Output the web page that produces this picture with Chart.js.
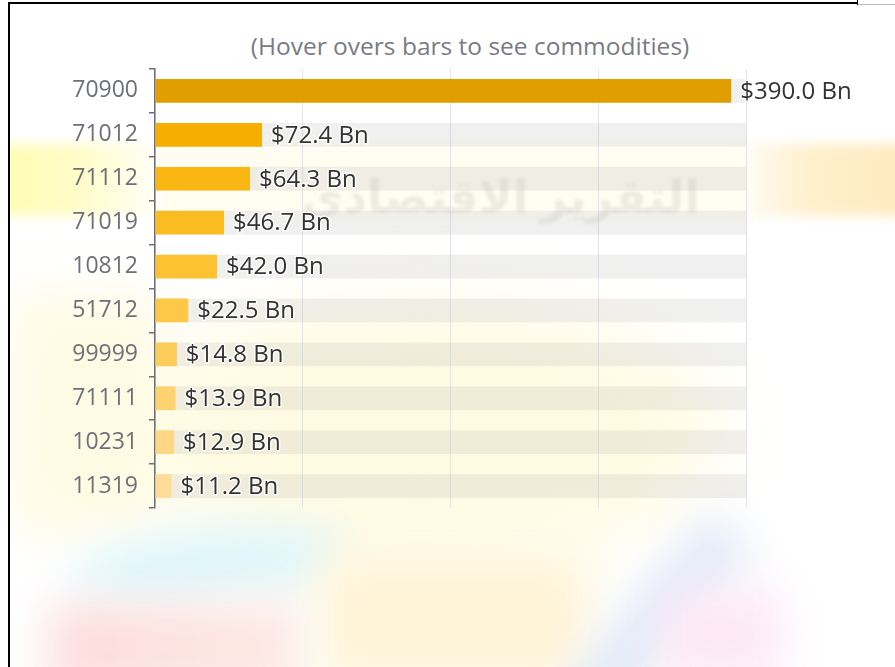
<!DOCTYPE html>
<html>
<head>
<meta charset="utf-8">
<script src="https://cdn.jsdelivr.net/npm/chart.js@4/dist/chart.umd.min.js"></script>
<style>
  html, body { margin:0; padding:0; width:895px; height:667px; overflow:hidden; background:#fff; }
  #bg { position:absolute; left:10px; top:4px; width:885px; height:663px; overflow:hidden; }
  .blob { position:absolute; filter:blur(22px); }
  #wm { position:absolute; left:380px; top:160px; width:310px; text-align:center; white-space:nowrap; font:bold 46px "Noto Sans", "DejaVu Sans", sans-serif; color:rgba(120,120,120,0.13); filter:blur(1.5px); direction:rtl; }
  #clip { position:absolute; left:72px; top:0; width:823px; height:667px; overflow:hidden; }
  #cv { position:absolute; left:-62px; top:0; }
  #title { position:absolute; left:0; width:940px; top:29px; text-align:center; font:24.5px "Open Sans", sans-serif; color:#7a7b82; }
  .ln { position:absolute; background:#000; }
</style>
</head>
<body>
<div id="bg">
  <div class="blob" style="left:-20px;top:140px;width:180px;height:72px;background:linear-gradient(90deg,#fffcb0 0%,#fffcc8 50%,rgba(255,253,230,0) 100%);filter:blur(6px)"></div>
  <div class="blob" style="left:720px;top:140px;width:200px;height:72px;background:linear-gradient(90deg,rgba(255,246,220,0) 0%,#fff0cc 40%,#ffe8bc 100%);filter:blur(6px)"></div>
  <div class="blob" style="left:150px;top:140px;width:590px;height:72px;background:#fffdf0;filter:blur(8px)"></div>
  <div class="blob" style="left:0px;top:290px;width:150px;height:240px;background:#fffbe4;filter:blur(25px)"></div>
  <div class="blob" style="left:110px;top:300px;width:600px;height:260px;border-radius:50%;background:#fffbe2;filter:blur(35px)"></div>
  <div class="blob" style="left:60px;top:525px;width:280px;height:70px;border-radius:50%;background:#def6fb;transform:rotate(-6deg)"></div>
  <div class="blob" style="left:40px;top:600px;width:250px;height:90px;background:linear-gradient(90deg,#fcdcdc,#fde9e4);"></div>
  <div class="blob" style="left:310px;top:550px;width:270px;height:130px;background:#fff4d8;"></div>
  <div class="blob" style="left:620px;top:500px;width:55px;height:230px;background:#dfe8f8;transform:rotate(40deg)"></div>
  <div class="blob" style="left:650px;top:585px;width:120px;height:95px;background:#fce8f7;"></div>
  <div id="wm">التقرير الاقتصادي</div>
</div>
<div class="ln" style="left:8px;top:2px;width:850px;height:2px"></div>
<div class="ln" style="left:8px;top:2px;width:2px;height:665px"></div>
<div class="ln" style="left:857px;top:0;width:1px;height:5px"></div>
<div class="ln" style="left:858px;top:4px;width:37px;height:1px;background:#bbb"></div>
<div id="title">(Hover overs bars to see commodities)</div>
<div id="clip"><canvas id="cv" width="885" height="667"></canvas></div>
<script>
const categories = ["270900","271012","271112","271019","710812","851712","999999","271111","710231","711319"];
const values = [390.0, 72.4, 64.3, 46.7, 42.0, 22.5, 14.8, 13.9, 12.9, 11.2];
const valueLabels = ["$390.0 Bn","$72.4 Bn","$64.3 Bn","$46.7 Bn","$42.0 Bn","$22.5 Bn","$14.8 Bn","$13.9 Bn","$12.9 Bn","$11.2 Bn"];
const barColors = ["#e09e00","#f6ae00","#fab612","#fbbc22","#fcc232","#fdc847","#fdcd5c","#fed270","#fed784","#fedc98"];
const xTicks = [0,100,200,300,400];

const trackPlugin = {
  id:'track',
  beforeDatasetsDraw(chart){
    const ctx = chart.ctx, xs = chart.scales.x;
    const meta = chart.getDatasetMeta(0);
    ctx.save();
    ctx.fillStyle = 'rgba(180,180,180,0.2)';
    const x0 = xs.getPixelForValue(0), x1 = xs.getPixelForValue(400);
    meta.data.forEach(b => { ctx.fillRect(x0, b.y - b.height/2, x1-x0, b.height); });
    ctx.restore();
  }
};
const labelPlugin = {
  id:'vlabels',
  afterDatasetsDraw(chart){
    const ctx = chart.ctx;
    const meta = chart.getDatasetMeta(0);
    ctx.save();
    ctx.font = '24px "Open Sans", sans-serif';
    ctx.textBaseline = 'middle';
    ctx.textAlign = 'left';
    ctx.lineJoin = 'round';
    meta.data.forEach((b,i) => {
      ctx.strokeStyle = 'rgba(255,255,255,0.8)';
      ctx.lineWidth = 3;
      ctx.strokeText(valueLabels[i], b.x + 9, b.y + 1);
      ctx.fillStyle = '#333';
      ctx.fillText(valueLabels[i], b.x + 9, b.y + 1);
    });
    ctx.restore();
  }
};

new Chart(document.getElementById('cv'), {
  type:'bar',
  data:{ labels:categories, datasets:[{ data:values, backgroundColor:barColors, borderWidth:0, barPercentage:0.54, categoryPercentage:1 }] },
  options:{
    indexAxis:'y', responsive:false, animation:false,
    layout:{ padding:{ top:69, bottom:159, left:0, right:149 } },
    plugins:{ legend:{display:false}, tooltip:{enabled:false}, title:{display:false} },
    scales:{
      x:{ min:0, max:400, afterBuildTicks(s){ s.ticks = xTicks.map(v=>({value:v})); },
          ticks:{display:false}, border:{display:false},
          grid:{ color:'#dfe4f0', lineWidth:1, drawTicks:false } },
      y:{ afterFit(s){ s.width = 145; },
          ticks:{ color:'#6e7079', font:{ family:'"Open Sans", sans-serif', size:23 }, padding:11 },
          border:{ color:'#6e7079', width:1.5 },
          grid:{ display:true, offset:true, drawOnChartArea:false, drawTicks:true, tickLength:6, color:'#6e7079', lineWidth:1.5 } }
    }
  },
  plugins:[trackPlugin, labelPlugin]
});
</script>
</body>
</html>
